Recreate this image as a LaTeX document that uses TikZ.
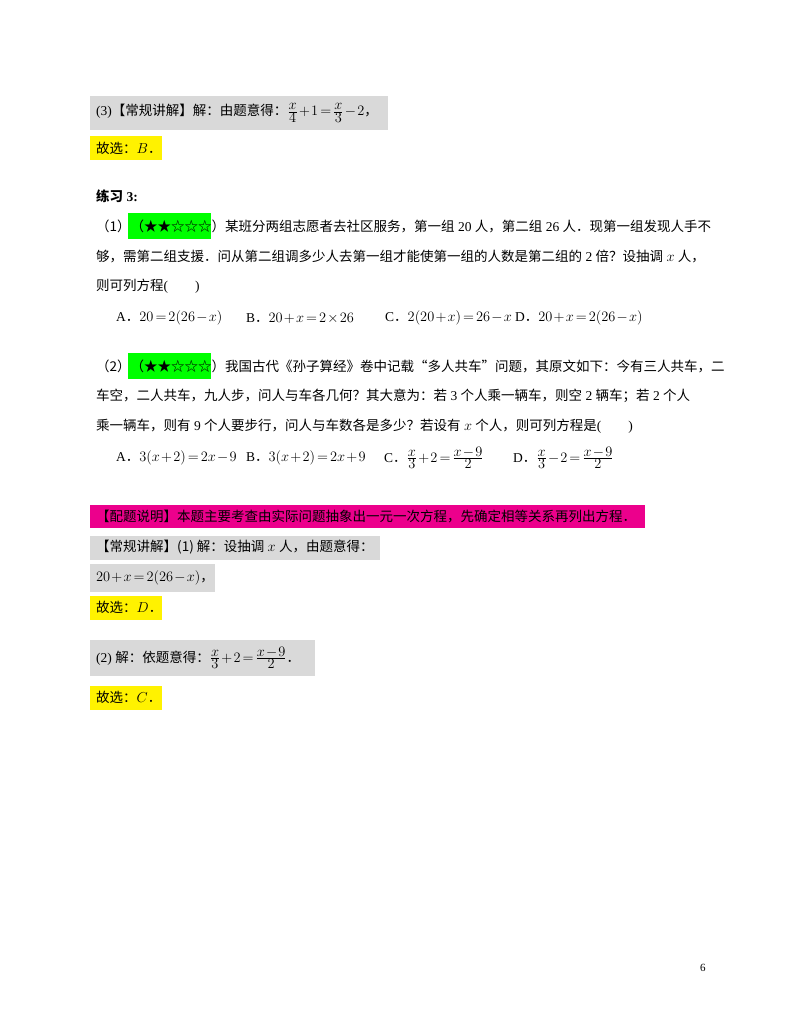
\documentclass[tikz,border=0pt]{standalone}
\usepackage{amsmath}
\usepackage{fontspec}
\setmainfont{Liberation Serif}
\newfontfamily\zhf{Noto Sans CJK SC}
\newcommand\zh[1]{{\zhf #1}}
\newcommand\fr[2]{{\textstyle\frac{\textstyle #1}{\textstyle #2}}}
\begin{document}
\medmuskip=1.5mu \thickmuskip=2.5mu
\begin{tikzpicture}[x=1pt,y=-1pt,
  t/.style={anchor=west,inner sep=0pt,font=\fontsize{13.5}{16}\selectfont},
  gbox/.style={fill=black!15,draw=none},
  ybox/.style={fill=yellow,draw=none},
  grbox/.style={fill=green,draw=none},
  mbox/.style={fill=magenta,draw=none}]
\useasboundingbox (0,0) rectangle (800,1035);
\fill[white] (0,0) rectangle (800,1035);
% boxes
\fill[gbox] (90,96) rectangle (388,130);
\fill[ybox] (90,136) rectangle (162,160);
\fill[grbox] (128,213) rectangle (211,239);
\fill[grbox] (128,353) rectangle (211,379);
\fill[mbox] (90,505) rectangle (645,528);
\fill[gbox] (90,536) rectangle (380,560);
\fill[gbox] (90,564) rectangle (215,592);
\fill[ybox] (90,596) rectangle (162,620);
\fill[gbox] (90,640) rectangle (315,676);
\fill[ybox] (90,686) rectangle (162,710);
% texts
\node[t] (a1) at (96,113) {(3)\zh{【常规讲解】解：由题意得：}$\fr{x}{4}+1=\fr{x}{3}-2$\zh{，}};
\node[t] (a2) at (96,148) {\zh{故选：}$B$\zh{．}};
\node[t] (a3) at (96,196) {\zh{\bfseries 练习} \textbf{3:}};
\node[t] (q1) at (96,226) {\zh{（1）（}\zh{★★☆☆☆}\zh{）某班分两组志愿者去社区服务，第一组} 20 \zh{人，第二组} 26 \zh{人．现第一组发现人手不}};
\node[t] (q2) at (96,256) {\zh{够，需第二组支援．问从第二组调多少人去第一组才能使第一组的人数是第二组的} 2 \zh{倍？设抽调} $x$ \zh{人，}};
\node[t] (q3) at (96,286) {\zh{则可列方程}(\quad\quad)};
\node[t] (o1) at (116,318) {A\zh{．}$20=2(26-x)$};
\node[t] (o2) at (246,318) {B\zh{．}$20+x=2\times26$};
\node[t] (o3) at (385,318) {C\zh{．}$2(20+x)=26-x$};
\node[t] (o4) at (515,318) {D\zh{．}$20+x=2(26-x)$};
\node[t] (r1) at (96,366) {\zh{（2）（}\zh{★★☆☆☆}\zh{）我国古代《孙子算经》卷中记载“多人共车”问题，其原文如下：今有三人共车，二}};
\node[t] (r2) at (96,396) {\zh{车空，二人共车，九人步，问人与车各几何？其大意为：若} 3 \zh{个人乘一辆车，则空} 2 \zh{辆车；若} 2 \zh{个人}};
\node[t] (r3) at (96,426) {\zh{乘一辆车，则有} 9 \zh{个人要步行，问人与车数各是多少？若设有} $x$ \zh{个人，则可列方程是}(\quad\quad)};
\node[t] (p1) at (116,458) {A\zh{．}$3(x+2)=2x-9$};
\node[t] (p2) at (246,458) {B\zh{．}$3(x+2)=2x+9$};
\node[t] (p3) at (384,458) {C\zh{．}$\fr{x}{3}+2=\fr{x-9}{2}$};
\node[t] (p4) at (513,458) {D\zh{．}$\fr{x}{3}-2=\fr{x-9}{2}$};
\node[t] (s1) at (96,516) {\zh{【配题说明】本题主要考查由实际问题抽象出一元一次方程，先确定相等关系再列出方程．}};
\node[t] (s2) at (96,547) {\zh{【常规讲解】(1) 解：设抽调} $x$ \zh{人，由题意得：}};
\node[t] (s3) at (96,578) {$20+x=2(26-x)$\zh{，}};
\node[t] (s4) at (96,607) {\zh{故选：}$D$\zh{．}};
\node[t] (s5) at (96,658) {(2) \zh{解：依题意得：}$\fr{x}{3}+2=\fr{x-9}{2}$\zh{．}};
\node[t] (s6) at (96,697) {\zh{故选：}$C$\zh{．}};
\node[t,font=\fontsize{11}{13}\selectfont] (pg) at (700,968) {6};
\end{tikzpicture}
\end{document}
